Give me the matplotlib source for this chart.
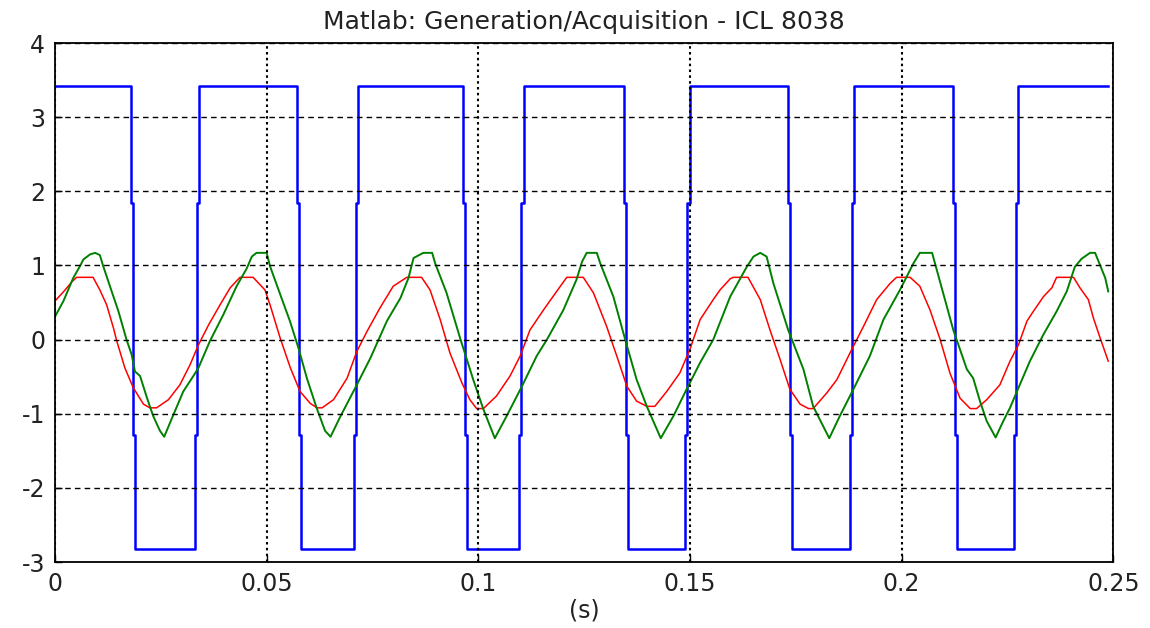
import numpy as np
import matplotlib.pyplot as plt

# -----------------------------
# Data
# -----------------------------
# square wave (blue): levels and edge times
blue_levels = [3.42, 1.84, -1.28, -2.83]  # high, upper step, lower step, low
blue_fall_t = [0.0185, 0.0576, 0.0969, 0.1349, 0.1736, 0.2126]
blue_rise_t = [0.0335, 0.0711, 0.1102, 0.1494, 0.1882, 0.2270]
blue_t_end = 0.2488
blue_jog = 0.0005  # small sample offset seen in every edge

# sine-like wave (red)
red_t = [0.0, 0.0024, 0.0040, 0.0051, 0.0090, 0.0106, 0.0122, 0.0138, 0.0146, 0.0165,
         0.0185, 0.0209, 0.0224, 0.0240, 0.0268, 0.0295, 0.0319, 0.0339, 0.0363, 0.0390,
         0.0414, 0.0437, 0.0468, 0.0496, 0.0508, 0.0532, 0.0556, 0.0579, 0.0603, 0.0619,
         0.0631, 0.0658, 0.0690, 0.0713, 0.0737, 0.0768, 0.0799, 0.0831, 0.0866, 0.0886,
         0.0910, 0.0933, 0.0961, 0.0980, 0.0996, 0.1012, 0.1043, 0.1075, 0.1099, 0.1122,
         0.1154, 0.1185, 0.1209, 0.1248, 0.1272, 0.1303, 0.1327, 0.1351, 0.1374, 0.1398,
         0.1417, 0.1445, 0.1476, 0.1500, 0.1524, 0.1555, 0.1571, 0.1595, 0.1602, 0.1637,
         0.1666, 0.1689, 0.1713, 0.1736, 0.1760, 0.1780, 0.1791, 0.1823, 0.1847, 0.1878,
         0.1910, 0.1941, 0.1973, 0.1988, 0.2020, 0.2043, 0.2067, 0.2091, 0.2114, 0.2138,
         0.2162, 0.2177, 0.2201, 0.2232, 0.2256, 0.2276, 0.2296, 0.2311, 0.2335, 0.2355,
         0.2366, 0.2406, 0.2421, 0.2441, 0.2453, 0.2469, 0.2488]
red_v = [0.52, 0.67, 0.78, 0.84, 0.84, 0.67, 0.47, 0.16, -0.02, -0.38,
         -0.65, -0.87, -0.92, -0.92, -0.81, -0.61, -0.34, -0.07, 0.20, 0.47,
         0.70, 0.84, 0.84, 0.67, 0.47, 0.02, -0.38, -0.70, -0.86, -0.92,
         -0.92, -0.81, -0.52, -0.16, 0.11, 0.43, 0.72, 0.84, 0.84, 0.67,
         0.27, -0.18, -0.58, -0.81, -0.93, -0.93, -0.76, -0.49, -0.22, 0.13,
         0.40, 0.65, 0.84, 0.84, 0.63, 0.18, -0.22, -0.63, -0.83, -0.90,
         -0.90, -0.70, -0.45, -0.13, 0.27, 0.54, 0.67, 0.82, 0.84, 0.84,
         0.54, 0.13, -0.27, -0.67, -0.87, -0.93, -0.93, -0.72, -0.54, -0.18,
         0.18, 0.54, 0.76, 0.84, 0.84, 0.72, 0.40, 0.00, -0.45, -0.79,
         -0.93, -0.93, -0.81, -0.61, -0.29, -0.07, 0.25, 0.38, 0.58, 0.70,
         0.84, 0.84, 0.70, 0.54, 0.29, 0.02, -0.29]

# triangle-like wave (green)
green_t = [0.0, 0.0020, 0.0043, 0.0059, 0.0067, 0.0083, 0.0095, 0.0106, 0.0114, 0.0134,
           0.0150, 0.0169, 0.0181, 0.0189, 0.0201, 0.0217, 0.0232, 0.0248, 0.0258, 0.0280,
           0.0303, 0.0327, 0.0339, 0.0366, 0.0398, 0.0429, 0.0453, 0.0465, 0.0476, 0.0500,
           0.0508, 0.0532, 0.0555, 0.0575, 0.0595, 0.0618, 0.0638, 0.0651, 0.0673, 0.0713,
           0.0745, 0.0784, 0.0816, 0.0835, 0.0847, 0.0870, 0.0891, 0.0898, 0.0925, 0.0957,
           0.0988, 0.1012, 0.1039, 0.1067, 0.1103, 0.1138, 0.1162, 0.1201, 0.1232, 0.1245,
           0.1256, 0.1280, 0.1288, 0.1319, 0.1347, 0.1374, 0.1398, 0.1431, 0.1461, 0.1492,
           0.1524, 0.1555, 0.1595, 0.1634, 0.1650, 0.1666, 0.1681, 0.1697, 0.1732, 0.1768,
           0.1791, 0.1829, 0.1854, 0.1886, 0.1925, 0.1957, 0.1996, 0.2028, 0.2043, 0.2072,
           0.2083, 0.2122, 0.2154, 0.2169, 0.2185, 0.2201, 0.2222, 0.2240, 0.2256, 0.2276,
           0.2303, 0.2335, 0.2366, 0.2390, 0.2409, 0.2425, 0.2445, 0.2457, 0.2469, 0.2481,
           0.2488]
green_v = [0.31, 0.52, 0.83, 0.99, 1.08, 1.15, 1.17, 1.14, 0.99, 0.65,
           0.38, 0.00, -0.20, -0.43, -0.49, -0.78, -1.03, -1.23, -1.31, -1.01,
           -0.70, -0.49, -0.38, -0.02, 0.34, 0.72, 0.96, 1.12, 1.17, 1.17,
           0.99, 0.61, 0.25, -0.11, -0.52, -0.92, -1.23, -1.31, -1.05, -0.61,
           -0.25, 0.25, 0.56, 0.83, 1.10, 1.17, 1.17, 1.03, 0.63, 0.02,
           -0.54, -0.94, -1.33, -1.03, -0.63, -0.22, 0.00, 0.40, 0.81, 1.05,
           1.17, 1.17, 1.03, 0.58, 0.00, -0.54, -0.90, -1.33, -1.03, -0.67,
           -0.31, 0.00, 0.58, 0.98, 1.12, 1.17, 1.12, 0.76, 0.13, -0.40,
           -0.90, -1.33, -1.03, -0.67, -0.22, 0.27, 0.67, 1.03, 1.17, 1.17,
           0.94, 0.13, -0.40, -0.52, -0.83, -1.10, -1.32, -1.10, -0.92, -0.65,
           -0.29, 0.07, 0.38, 0.65, 0.98, 1.09, 1.17, 1.17, 1.00, 0.83,
           0.65]

x_ticks = [0, 0.05, 0.1, 0.15, 0.2, 0.25]
x_tick_labels = ["0", "0.05", "0.1", "0.15", "0.2", "0.25"]
y_ticks = [-3, -2, -1, 0, 1, 2, 3, 4]


def build_square(levels, fall_t, rise_t, t_end, d):
    """Turn edge times into the stepped outline of the square wave."""
    hi, up, lo_step, lo = levels
    pts = [(0.0, hi)]
    edges = sorted([(t, 'f') for t in fall_t] + [(t, 'r') for t in rise_t])
    for t, kind in edges:
        if kind == 'f':
            seq = [hi, up, lo_step, lo]
        else:
            seq = [lo, lo_step, up, hi]
        pts += [(t - d, seq[0]), (t - d, seq[1]), (t, seq[1]),
                (t, seq[2]), (t + d, seq[2]), (t + d, seq[3])]
    pts.append((t_end, hi))
    return np.array(pts)


plt.rcParams['font.family'] = ['DejaVu Sans']
plt.rcParams['axes.unicode_minus'] = False

fig = plt.figure(figsize=(11.5, 6.28), dpi=100)
ax = fig.add_axes([0.0478, 0.105, 0.9203, 0.8265])

sq = build_square(blue_levels, blue_fall_t, blue_rise_t, blue_t_end, blue_jog)
ax.plot(sq[:, 0], sq[:, 1], color='#0000ff', lw=1.8)
ax.plot(red_t, red_v, color='#ff0000', lw=1.1)
ax.plot(green_t, green_v, color='#008000', lw=1.4)

ax.set_xlim(0, 0.25)
ax.set_ylim(-3, 4)
ax.set_xticks(x_ticks)
ax.set_xticklabels(x_tick_labels)
ax.set_yticks(y_ticks)

# matlab style grid: dashed horizontals, dotted verticals
ax.yaxis.grid(True, linestyle=(0, (4, 3)), color='black', lw=1.0)
ax.xaxis.grid(True, linestyle=(0, (1.2, 1.6)), color='black', lw=1.5)
ax.set_axisbelow(False)

ax.tick_params(direction='in', length=5, width=1, labelsize=17,
               labelcolor='#222222', pad=7)
for s in ax.spines.values():
    s.set_linewidth(1.3)
    s.set_color('black')

ax.set_title("Matlab: Generation/Acquisition - ICL 8038", fontsize=18,
             color='#222222', pad=10)
ax.set_xlabel("(s)", fontsize=17, color='#222222', labelpad=2)

fig.savefig("out.png", dpi=100, facecolor='white')
